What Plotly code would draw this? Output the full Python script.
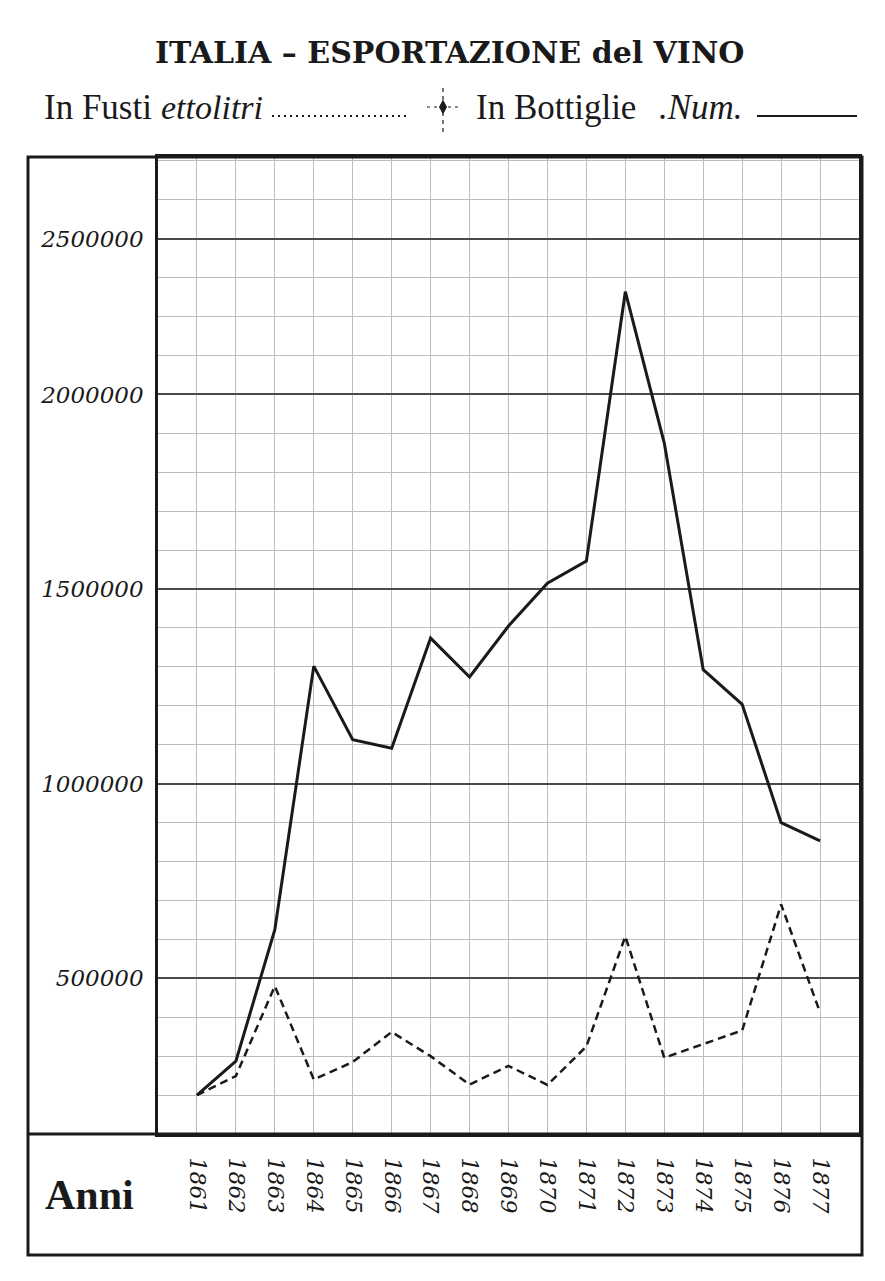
import plotly.graph_objects as go

# ---- data ----
years = [1861, 1862, 1863, 1864, 1865, 1866, 1867, 1868, 1869,
         1870, 1871, 1872, 1873, 1874, 1875, 1876, 1877]
in_fusti_ettolitri = [200000, 249000, 480000, 240000, 285000, 362000, 300000, 227000, 275000,
                      226000, 325000, 608000, 296000, 330000, 366000, 690000, 412000]
in_bottiglie_num = [200000, 287000, 625000, 1302000, 1113000, 1091000, 1374000, 1274000, 1405000,
                    1515000, 1572000, 2264000, 1875000, 1293000, 1204000, 900000, 853000]
y_tick_vals = [500000, 1000000, 1500000, 2000000, 2400000]
y_tick_text = ["500000", "1000000", "1500000", "2000000", "2500000"]
year_labels = [str(y) for y in years]

W, H = 885, 1281
OFF = 8  # default page body margin of the written html
PL, PR, PT, PB = 158, 859, 157, 1134  # plot area in page pixels
L, T = PL - OFF, PT - OFF
R = W - (PR - OFF)
B = H - (PB - OFF)
PW, PH = PR - PL, PB - PT


def xp(px):
    return (px - PL) / PW


def yp(py):
    return (PB - py) / PH


INK = "#1a1a1a"
GRID = "#bdbdbd"
SERIF = "Liberation Serif"

fig = go.Figure()
fig.add_trace(go.Scatter(x=years, y=in_fusti_ettolitri, mode="lines",
                         line=dict(color=INK, width=2.5, dash="8px,5px"),
                         name="In Fusti ettolitri", showlegend=False))
fig.add_trace(go.Scatter(x=years, y=in_bottiglie_num, mode="lines",
                         line=dict(color=INK, width=3),
                         name="In Bottiglie Num.", showlegend=False))

fig.update_layout(
    width=W, height=H,
    margin=dict(l=L, r=R, t=T, b=B, pad=0),
    paper_bgcolor="white", plot_bgcolor="white",
    showlegend=False,
    xaxis=dict(range=[1860, 1878], tickmode="array", tickvals=years, ticktext=year_labels,
               tickangle=90, ticks="", ticklabelstandoff=16,
               tickfont=dict(family="DejaVu Serif", size=22, style="italic", color=INK),
               showgrid=True, gridcolor=GRID, gridwidth=1, zeroline=False,
               showline=True, linecolor=INK, linewidth=3, mirror=True),
    yaxis=dict(range=[100000, 2610000], tickmode="array", tickvals=y_tick_vals, ticktext=y_tick_text,
               ticks="", ticklabelstandoff=7,
               tickfont=dict(family="DejaVu Serif", size=23, style="italic", color=INK),
               showgrid=True, gridcolor="#4a4a4a", gridwidth=1.5, zeroline=False,
               minor=dict(tick0=0, dtick=100000, showgrid=True, gridcolor=GRID, gridwidth=1),
               showline=True, linecolor=INK, linewidth=2.5, mirror=True),
)

shapes = []
# outer frame
shapes.append(dict(type="rect", xref="paper", yref="paper",
                   x0=xp(28), x1=xp(862), y0=yp(1255), y1=yp(157),
                   line=dict(color=INK, width=3)))
# separator above the "Anni" row
shapes.append(dict(type="line", xref="paper", yref="paper",
                   x0=xp(28), x1=xp(862), y0=yp(1134), y1=yp(1134),
                   line=dict(color=INK, width=3)))
# legend samples
shapes.append(dict(type="line", xref="paper", yref="paper",
                   x0=xp(272), x1=xp(410), y0=yp(116), y1=yp(116),
                   line=dict(color=INK, width=2, dash="2px,4px")))
shapes.append(dict(type="line", xref="paper", yref="paper",
                   x0=xp(757), x1=xp(857), y0=yp(116), y1=yp(116),
                   line=dict(color=INK, width=2)))
# little separator mark between legend entries
shapes.append(dict(type="line", xref="paper", yref="paper",
                   x0=xp(443), x1=xp(443), y0=yp(88), y1=yp(136),
                   line=dict(color=INK, width=1.2, dash="4px,4px")))
shapes.append(dict(type="line", xref="paper", yref="paper",
                   x0=xp(427), x1=xp(460), y0=yp(107), y1=yp(107),
                   line=dict(color=INK, width=1.2, dash="3px,4px")))
dx, dy = 3.5, 6.5
path = "M {} {} L {} {} L {} {} L {} {} Z".format(
    xp(443), yp(107 - dy), xp(443 + dx), yp(107), xp(443), yp(107 + dy), xp(443 - dx), yp(107))
shapes.append(dict(type="path", xref="paper", yref="paper", path=path,
                   fillcolor=INK, line=dict(color=INK, width=1)))
fig.update_layout(shapes=shapes)

ann = []
ann.append(dict(text="<b>ITALIA – ESPORTAZIONE del VINO</b>", x=xp(449), y=yp(53),
                xref="paper", yref="paper", xanchor="center", yanchor="middle", showarrow=False,
                font=dict(family="DejaVu Serif", size=30, color=INK)))
ann.append(dict(text="In Fusti", x=xp(42), y=yp(107), xref="paper", yref="paper",
                xanchor="left", yanchor="middle", showarrow=False,
                font=dict(family=SERIF, size=35, color=INK)))
ann.append(dict(text="ettolitri", x=xp(159), y=yp(107), xref="paper", yref="paper",
                xanchor="left", yanchor="middle", showarrow=False,
                font=dict(family=SERIF, size=34, style="italic", color=INK)))
ann.append(dict(text="In Bottiglie", x=xp(474), y=yp(107), xref="paper", yref="paper",
                xanchor="left", yanchor="middle", showarrow=False,
                font=dict(family=SERIF, size=35, color=INK)))
ann.append(dict(text=".Num.", x=xp(657), y=yp(107), xref="paper", yref="paper",
                xanchor="left", yanchor="middle", showarrow=False,
                font=dict(family=SERIF, size=35, style="italic", color=INK)))
ann.append(dict(text="<b>Anni</b>", x=xp(89), y=yp(1195), xref="paper", yref="paper",
                xanchor="center", yanchor="middle", showarrow=False,
                font=dict(family=SERIF, size=42, color=INK)))
fig.update_layout(annotations=ann)

fig.write_html("out.html")
